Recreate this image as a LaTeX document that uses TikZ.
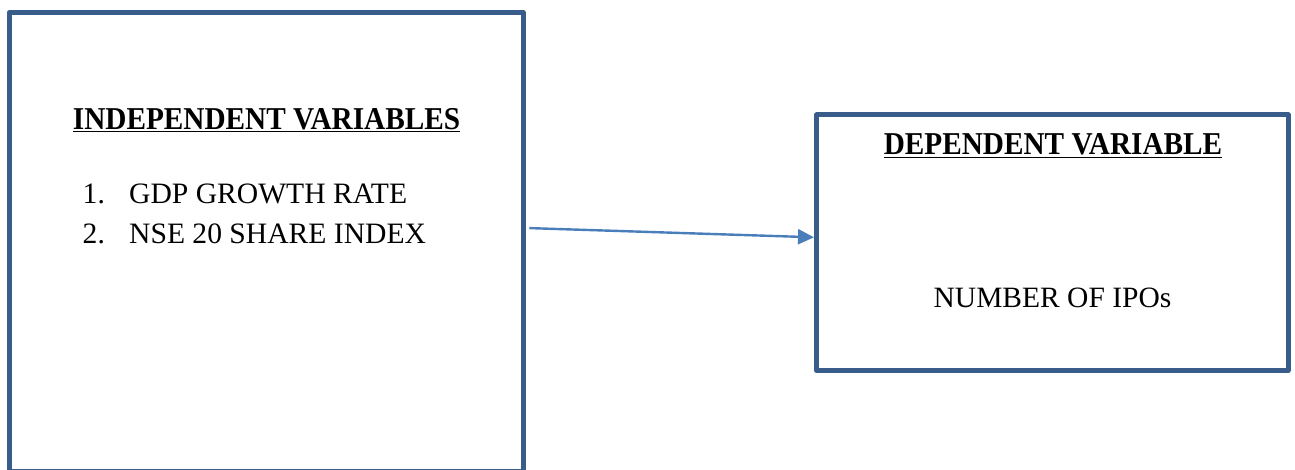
\documentclass[tikz,border=0pt]{standalone}
\usepackage{fontspec}
\setmainfont{Liberation Serif}
\newfontfamily\headfont{Liberation Serif}[FakeStretch=0.92]
\usetikzlibrary{arrows.meta}

\definecolor{boxline}{HTML}{385D8A}
\definecolor{arrowline}{HTML}{4A7EBB}

\tikzset{
  varbox/.style={draw=boxline, line width=5pt, line join=round, fill=white,
                 inner sep=0pt, rectangle},
  headtext/.style={inner sep=0pt, anchor=base,
                   font=\headfont\bfseries\fontsize{31.8}{36}\selectfont},
  itemtext/.style={inner sep=0pt, anchor=base west,
                   font=\fontsize{29.6}{33}\selectfont},
  bodytext/.style={inner sep=0pt, anchor=base,
                   font=\fontsize{29.5}{33}\selectfont},
  link/.style={draw=arrowline, line width=2.4pt,
               -{Triangle[length=16pt,width=15pt]}}
}

\begin{document}
\begin{tikzpicture}[x=1pt, y=-1pt]
  \useasboundingbox (0,0) rectangle (1295,470);
  \clip (0,0) rectangle (1295,470);

  % left box: the explanatory variables
  \node[varbox, minimum width=513.5pt, minimum height=459.25pt]
    (ibox) at (266.25,241.9) {};
  \node[headtext] (ihead) at (266.5,129.3) {\underline{INDEPENDENT VARIABLES}};
  \node[itemtext] (item1) at (82.5,203.5) {\makebox[46.5pt][l]{1.}GDP GROWTH RATE};
  \node[itemtext] (item2) at (82.5,243.5) {\makebox[46.5pt][l]{2.}NSE 20 SHARE INDEX};

  % right box: the explained variable
  \node[varbox, minimum width=471.5pt, minimum height=255.5pt]
    (dbox) at (1052.25,242.75) {};
  \node[headtext] (dhead) at (1053,155) {\underline{DEPENDENT VARIABLE}};
  \node[bodytext] (dbody) at (1052.5,307.5) {NUMBER OF IPOs};

  % relation between the two groups
  \draw[link] ([xshift=3.8pt,yshift=13.8pt]ibox.east) -- ([yshift=5.45pt]dbox.west);
\end{tikzpicture}
\end{document}
